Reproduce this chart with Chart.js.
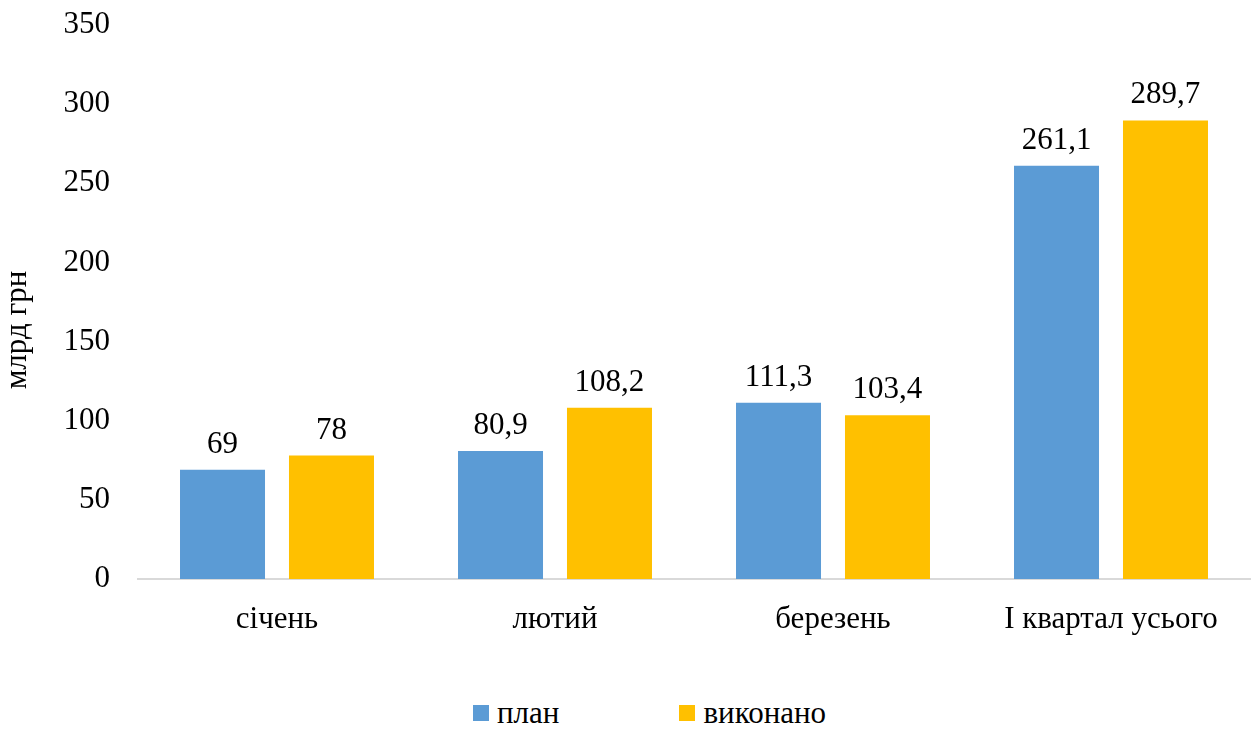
<!DOCTYPE html>
<html>
<head>
<meta charset="utf-8">
<script src="https://cdn.jsdelivr.net/npm/chart.js@4"></script>
<style>
  html, body { margin: 0; padding: 0; background: #fff; }
  #wrap { width: 1252px; height: 696px; position: relative; }
  #legend {
    display: flex; align-items: center; justify-content: flex-start;
    height: 34px; padding-left: 473px;
    font-family: "Liberation Serif", serif; font-size: 31px; color: #000;
  }
  #legend span.box { display: inline-block; width: 16px; height: 16px; margin-right: 8px; }
  #legend .item { display: flex; align-items: center; margin-right: 120px; }
</style>
</head>
<body>
<div id="wrap"><canvas id="chart"></canvas></div>
<div id="legend"></div>
<script>
const categories = ['січень', 'лютий', 'березень', 'І квартал усього'];
const planValues = [69, 80.9, 111.3, 261.1];
const doneValues = [78, 108.2, 103.4, 289.7];
const seriesNames = ['план', 'виконано'];
const seriesColors = ['#5B9BD5', '#FFC000'];
const yTitle = 'млрд грн';

const FONT = '"Liberation Serif", "Times New Roman", serif';
const FS = 31;

// value labels above bars, comma as decimal separator
const valueLabels = {
    id: 'valueLabels',
    afterDatasetsDraw(chart) {
        const ctx = chart.ctx;
        ctx.save();
        ctx.font = FS + 'px ' + FONT;
        ctx.fillStyle = '#000';
        ctx.textAlign = 'center';
        ctx.textBaseline = 'alphabetic';
        chart.data.datasets.forEach((ds, i) => {
            chart.getDatasetMeta(i).data.forEach((bar, j) => {
                const txt = String(ds.data[j]).replace('.', ',');
                ctx.fillText(txt, bar.x, bar.y - 17);
            });
        });
        ctx.restore();
    }
};

// rotated y axis title
const axisTitle = {
    id: 'axisTitle',
    afterDraw(chart) {
        const ctx = chart.ctx;
        ctx.save();
        ctx.font = FS + 'px ' + FONT;
        ctx.fillStyle = '#000';
        ctx.textAlign = 'center';
        ctx.textBaseline = 'middle';
        ctx.translate(18, 330);
        ctx.rotate(-Math.PI / 2);
        ctx.fillText(yTitle, 0, 0);
        ctx.restore();
    }
};

new Chart(document.getElementById('chart'), {
    type: 'bar',
    data: {
        labels: categories,
        datasets: [
            { label: seriesNames[0], data: planValues, backgroundColor: seriesColors[0] },
            { label: seriesNames[1], data: doneValues, backgroundColor: seriesColors[1] }
        ]
    },
    options: {
        responsive: true,
        maintainAspectRatio: false,
        animation: false,
        categoryPercentage: 0.784,
        barPercentage: 0.78,
        layout: { padding: { top: 25, right: 2, left: 0, bottom: 0 } },
        plugins: {
            legend: { display: false },
            tooltip: { enabled: false }
        },
        scales: {
            x: {
                grid: { display: false, drawTicks: false },
                border: { display: true, color: '#D9D9D9', width: 2 },
                ticks: { color: '#000', font: { family: FONT, size: FS }, padding: 22, maxRotation: 0 },
                afterFit: s => { s.height = 117; }
            },
            y: {
                min: 0,
                max: 350,
                grid: { display: false, drawTicks: false },
                border: { display: false },
                ticks: { stepSize: 50, color: '#000', font: { family: FONT, size: FS }, padding: 28 },
                afterFit: s => { s.width = 138; s.paddingTop = 0; s.paddingBottom = 0; }
            }
        }
    },
    plugins: [valueLabels, axisTitle]
});

const legend = document.getElementById('legend');
seriesNames.forEach((name, i) => {
    const item = document.createElement('div');
    item.className = 'item';
    item.innerHTML = `<span class="box" style="background:${seriesColors[i]}"></span><span>${name}</span>`;
    legend.appendChild(item);
});
</script>
</body>
</html>
